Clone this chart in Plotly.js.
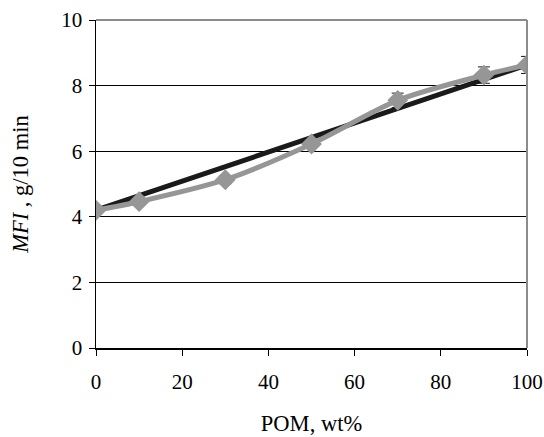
<!DOCTYPE html>
<html>
<head>
<meta charset="utf-8">
<script src="https://cdn.plot.ly/plotly-3.0.1.min.js"></script>
<style>html,body{margin:0;padding:0;background:#fff;}#chart{width:544px;height:437px;}</style>
</head>
<body>
<div id="chart"></div>
<script>
const pomContent = [0, 10, 30, 50, 70, 90, 100];
const mfiMeasured = [4.2, 4.46, 5.13, 6.22, 7.55, 8.32, 8.63];
const mfiError = [0.08, 0.1, 0.12, 0.1, 0.22, 0.25, 0.26];
const additivityX = [0, 100];
const additivityY = [4.2, 8.63];
const xTicks = [0, 20, 40, 60, 80, 100];
const yTicks = [0, 2, 4, 6, 8, 10];

const traces = [
  {
    x: additivityX, y: additivityY, type: 'scatter', mode: 'lines',
    line: {color: '#1a1a1a', width: 5}, hoverinfo: 'skip', showlegend: false
  },
  {
    x: pomContent, y: mfiMeasured, type: 'scatter', mode: 'lines+markers',
    line: {color: '#969696', width: 5, shape: 'spline', smoothing: 0.8},
    marker: {symbol: 'diamond', size: 16, color: '#969696'},
    error_y: {type: 'data', array: mfiError, visible: true, color: '#1a1a1a', thickness: 1, width: 6},
    showlegend: false
  }
];

const layout = {
  width: 544, height: 437,
  margin: {l: 96, r: 17, t: 20, b: 89},
  paper_bgcolor: '#fff', plot_bgcolor: '#fff',
  font: {family: 'Liberation Serif, Times New Roman, serif', size: 21, color: '#000'},
  xaxis: {
    range: [0, 100], tickvals: xTicks, ticktext: xTicks.map(String),
    ticks: 'outside', ticklen: 6, tickcolor: '#000', tickwidth: 1,
    showline: true, linecolor: '#000', linewidth: 1.5, mirror: false,
    showgrid: false, zeroline: false,
    tickfont: {size: 21}, ticklabelstandoff: 8,
    title: {text: 'POM, wt%', font: {size: 22.5}, standoff: 22}
  },
  yaxis: {
    range: [0, 10], tickvals: yTicks, ticktext: yTicks.map(String),
    ticks: 'outside', ticklen: 6, tickcolor: '#000', tickwidth: 1,
    showline: true, linecolor: '#000', linewidth: 1.5,
    showgrid: true, gridcolor: '#000', gridwidth: 1,
    zeroline: false, tickfont: {size: 21}, ticklabelstandoff: 2,
    title: {text: '<i>MFI</i> , g/10 min', font: {size: 22.5}, standoff: 26}
  },
  shapes: [
    {type: 'line', xref: 'paper', yref: 'paper', x0: 0, x1: 1, y0: 1, y1: 1, line: {color: '#8c8c8c', width: 2}},
    {type: 'line', xref: 'paper', yref: 'paper', x0: 1, x1: 1, y0: 0, y1: 1, line: {color: '#8c8c8c', width: 2}}
  ]
};

Plotly.newPlot('chart', traces, layout, {staticPlot: true, displayModeBar: false});
</script>
</body>
</html>
